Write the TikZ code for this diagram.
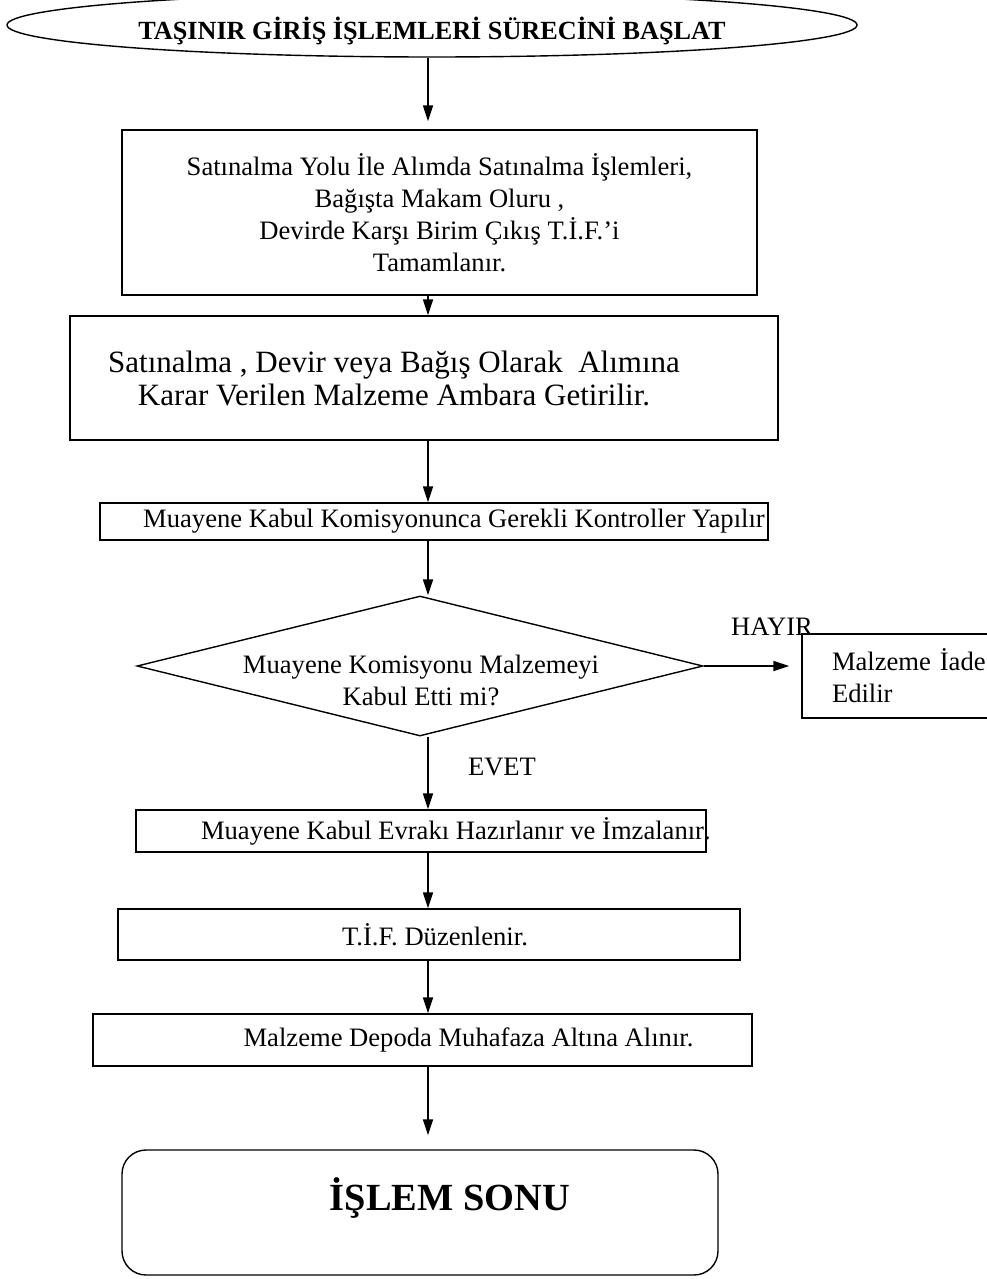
\documentclass[tikz,border=0pt]{standalone}
\usepackage{fontspec}
\setmainfont{Liberation Serif}
\usetikzlibrary{arrows.meta,shapes.geometric}

\begin{document}
\begin{tikzpicture}[x=0.5pt,y=-0.5pt,>={Triangle[length=8pt,width=5pt]},
  txt/.style={font=\fontsize{13.3}{16}\selectfont},
  kutu/.style={draw, line width=0.7pt, txt, align=center, inner sep=1pt},
  ok/.style={->, line width=0.8pt}]
 \useasboundingbox (0,0) rectangle (986,1279);
 \coordinate (hat) at (428,0);
 \node[draw, line width=0.7pt, ellipse, inner sep=0pt, minimum width=425pt, minimum height=32pt,
   text height=17.4pt, font=\bfseries\fontsize{13.1}{15}\selectfont] (basla) at (432,25) {TAŞINIR GİRİŞ İŞLEMLERİ SÜRECİNİ BAŞLAT};
 \node[kutu, minimum width=317.5pt, minimum height=82.5pt] (satin) at (439.5,212.5)
   {Satınalma Yolu İle Alımda Satınalma İşlemleri,\\ Bağışta Makam Oluru ,\\ Devirde Karşı Birim Çıkış T.İ.F.’i\\ Tamamlanır.};
 \node[kutu, minimum width=354pt, minimum height=62pt, font=\fontsize{15.5}{16.5}\selectfont] (ambar) at (424,378)
   {Satınalma , Devir veya Bağış Olarak\ \ Alımına\hspace*{30pt}\\ Karar Verilen Malzeme Ambara Getirilir.\hspace*{30pt}};
 \node[kutu, minimum width=334pt, minimum height=18.5pt] (kontrol) at (434,521.5)
   {\hspace*{20pt}Muayene Kabul Komisyonunca Gerekli Kontroller Yapılır};
 % karar kutusu ve yazisi
 \node[draw, line width=0.7pt, diamond, inner sep=0pt, minimum width=283pt, minimum height=70pt] (karar) at (420,666) {};
 \node[txt, align=center] (kararyazi) at (421,680) {Muayene Komisyonu Malzemeyi\\ Kabul Etti mi?};
 \node[kutu, align=left, text width=90pt, inner xsep=15pt, minimum height=42pt] (iade) at (922,676) {Malzeme İade\\ Edilir};
 \node[txt] (hayir) at (772,627) {HAYIR};
 \node[txt] (evet) at (502,767) {EVET};
 \node[kutu, minimum width=285pt, minimum height=21pt] (evrak) at (421,831)
   {\makebox[283pt][r]{Muayene Kabul Evrakı Hazırlanır ve İmzalanır\rlap{.}}};
 \node[kutu, minimum width=311pt, minimum height=25.5pt] (tif) at (429,934.5) {\hspace*{6pt}T.İ.F. Düzenlenir.};
 \node[kutu, minimum width=329.5pt, minimum height=26pt] (depo) at (422.5,1040)
   {\hspace*{46pt}Malzeme Depoda Muhafaza Altına Alınır.};
 \node[draw, line width=0.7pt, rounded corners=12pt, minimum width=298pt, minimum height=62.5pt,
   text height=14pt, text depth=16pt, font=\bfseries\fontsize{19.2}{22}\selectfont] (son) at (420,1212.5)
   {\hspace*{30pt}İŞLEM SONU};

 \draw[ok, shorten >=4pt] (basla.south -| hat) -- (satin.north -| hat);
 \draw[ok] (satin.south -| hat) -- (ambar.north -| hat);
 \draw[ok] (ambar.south -| hat) -- (kontrol.north -| hat);
 \draw[ok] (kontrol.south -| hat) -- (karar.north -| hat);
 \draw[ok, shorten >=6pt] (karar.east) -- (karar.east -| iade.west);
 \draw[ok] (karar.south -| hat) -- (evrak.north -| hat);
 \draw[ok] (evrak.south -| hat) -- (tif.north -| hat);
 \draw[ok] (tif.south -| hat) -- (depo.north -| hat);
 \draw[ok, shorten >=7pt] (depo.south -| hat) -- (son.north -| hat);
\end{tikzpicture}
\end{document}
